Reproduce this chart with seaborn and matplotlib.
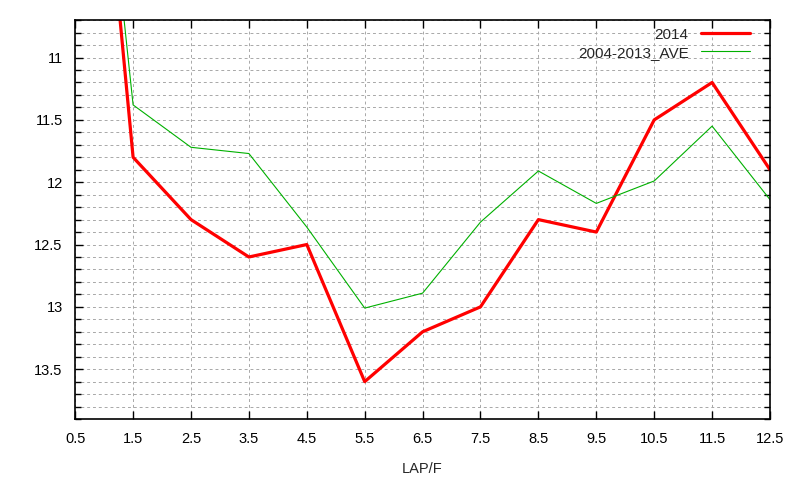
import numpy as np
import pandas as pd
import matplotlib
matplotlib.use('Agg')
import matplotlib.pyplot as plt
import seaborn as sns
from matplotlib.ticker import MultipleLocator

# 数据
laps = [0.5, 1.5, 2.5, 3.5, 4.5, 5.5, 6.5, 7.5, 8.5, 9.5, 10.5, 11.5, 12.5]
times_2014 = [6.9, 11.8, 12.3, 12.6, 12.5, 13.6, 13.2, 13.0, 12.3, 12.4, 11.5, 11.2, 11.9]
times_ave = [7.0, 11.38, 11.72, 11.77, 12.36, 13.01, 12.89, 12.32, 11.91, 12.17, 11.99, 11.55, 12.14]
series_names = ['2014', '2004-2013_AVE']

df = pd.DataFrame({
    'LAP/F': laps * 2,
    'time': times_2014 + times_ave,
    'series': [series_names[0]] * len(laps) + [series_names[1]] * len(laps),
})

sns.set_style('ticks')
plt.rcParams['font.family'] = ['Liberation Sans', 'DejaVu Sans']

fig = plt.figure(figsize=(8, 4.8), dpi=100)
ax = fig.add_axes([0.094, 0.127, 0.8685, 0.831])

sns.lineplot(data=df, x='LAP/F', y='time', hue='series', size='series',
             sizes={series_names[0]: 2.3, series_names[1]: 0.8},
             palette={series_names[0]: '#ff0000', series_names[1]: '#00b000'},
             ax=ax)

ax.set_xlim(0.5, 12.5)
ax.set_ylim(13.9, 10.7)
ax.set_xticks(np.arange(0.5, 12.6, 1.0))
ax.set_xticklabels([f'{v:g}' for v in np.arange(0.5, 12.6, 1.0)])
ax.yaxis.set_major_locator(MultipleLocator(0.5))
ax.yaxis.set_minor_locator(MultipleLocator(0.1))
ax.yaxis.set_major_formatter(matplotlib.ticker.FuncFormatter(lambda v, p: f'{v:g}'))

grid_kw = dict(color='#a8a8a8', linestyle=(0, (3, 3)), linewidth=0.7)
ax.grid(True, which='both', axis='y', **grid_kw)
ax.grid(True, which='major', axis='x', **grid_kw)
ax.set_axisbelow(True)

ax.tick_params(which='both', direction='in', top=True, right=True, labelsize=10.5, colors='black')
ax.tick_params(which='major', length=6, width=1)
ax.tick_params(which='minor', length=4, width=1)
ax.tick_params(axis='x', pad=9)
ax.tick_params(axis='y', pad=9)
for s in ax.spines.values():
    s.set_linewidth(1.2)
    s.set_color('black')

ax.set_xlabel('LAP/F', fontsize=10.5, labelpad=12)
ax.set_ylabel('')

handles, labels = ax.get_legend_handles_labels()
ax.legend(handles, labels, loc='upper right', frameon=False, markerfirst=False,
          fontsize=11, handlelength=3.2, borderaxespad=0.1, labelspacing=0.25,
          bbox_to_anchor=(0.982, 1.0))

fig.savefig('out.png', dpi=100)
